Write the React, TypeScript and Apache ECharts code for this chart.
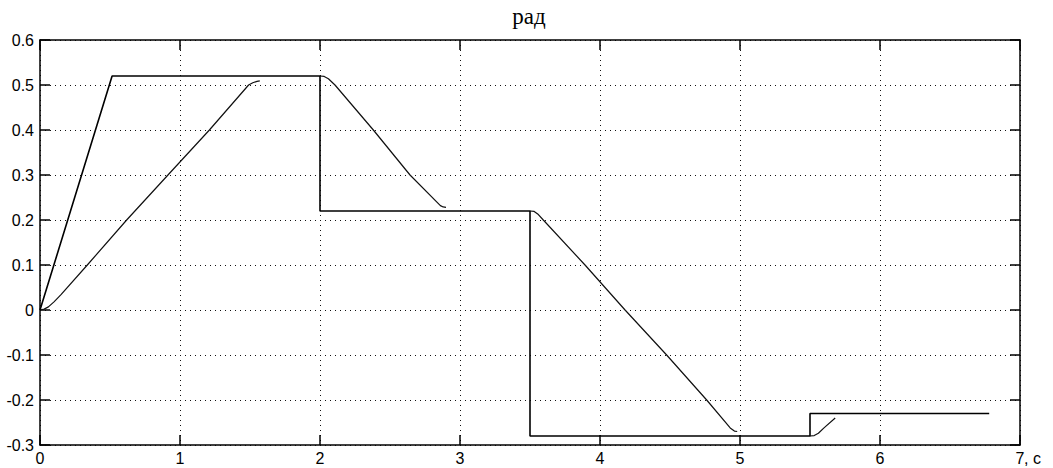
import React, { useEffect, useRef } from "react";
import * as echarts from "echarts";

// Reference (command) signal, rad
const refT = [0, 0.515, 2.0, 2.0, 3.5, 3.5, 5.5, 5.5, 6.78];
const refY = [0, 0.52, 0.52, 0.22, 0.22, -0.28, -0.28, -0.23, -0.23];

// Response segments (transitions), rad
const rise1T = [0, 0.03, 0.06, 0.1, 0.15, 0.338, 0.619, 0.914, 1.21, 1.49, 1.52, 1.55, 1.57];
const rise1Y = [0, 0.002, 0.007, 0.018, 0.034, 0.1, 0.2, 0.3, 0.4, 0.5, 0.505, 0.508, 0.509];

const fall1T = [2.0, 2.03, 2.06, 2.107, 2.381, 2.643, 2.86, 2.88, 2.9];
const fall1Y = [0.52, 0.519, 0.514, 0.5, 0.4, 0.3, 0.232, 0.229, 0.228];

const fall2T = [3.5, 3.53, 3.56, 3.595, 3.893, 4.179, 4.476, 4.762, 4.93, 4.96, 4.98];
const fall2Y = [0.22, 0.219, 0.212, 0.2, 0.1, 0, -0.1, -0.2, -0.262, -0.269, -0.27];

const rise2T = [5.5, 5.53, 5.56, 5.6, 5.68];
const rise2Y = [-0.28, -0.279, -0.274, -0.262, -0.24];

const xTicks = { min: 0, max: 7, interval: 1 };
const yTicks = { min: -0.3, max: 0.6, interval: 0.1 };
const titleText = "рад";
const xUnit = ", c";

const zip = (t: number[], y: number[]) => t.map((v, i) => [v, y[i]]);

const SANS = "Liberation Sans, Arial, sans-serif";
const SERIF = "Liberation Serif, Times New Roman, serif";

export default function App() {
  const ref = useRef<HTMLDivElement>(null);
  useEffect(() => {
    if (!ref.current) return;
    const chart = echarts.init(ref.current, null, { renderer: "svg" });
    const axisLine = { show: true, onZero: false, lineStyle: { color: "#000", width: 1.5 } };
    const axisTick = { show: true, inside: true, length: 10, lineStyle: { color: "#000", width: 1.5 } };
    const split = { show: true, lineStyle: { color: "#111", width: 1, type: [1, 4] as any } };
    const lineSeries = (data: number[][], width: number, color: string) => ({
      type: "line",
      data,
      showSymbol: false,
      symbol: "none",
      silent: true,
      lineStyle: { color, width },
      xAxisIndex: 0,
      yAxisIndex: 0,
    });
    chart.setOption({
      animation: false,
      backgroundColor: "#fff",
      grid: { left: 40, right: 33, top: 40, bottom: 23, containLabel: false },
      graphic: [
        {
          type: "text",
          x: 529,
          y: 16,
          style: {
            text: titleText,
            textAlign: "center",
            textVerticalAlign: "middle",
            fontFamily: SERIF,
            fontSize: 23,
            fill: "#000",
          },
        },
        {
          type: "text",
          x: 1024,
          y: 450,
          style: {
            text: xUnit,
            textAlign: "left",
            textVerticalAlign: "top",
            fontFamily: SANS,
            fontSize: 16,
            fill: "#000",
          },
        },
      ],
      xAxis: [
        {
          type: "value",
          position: "bottom",
          ...xTicks,
          axisLine,
          axisTick,
          splitLine: split,
          axisLabel: {
            show: true,
            color: "#000",
            fontFamily: SANS,
            fontSize: 16,
            margin: 5,
            formatter: (v: number) => String(Math.round(v)),
          },
        },
        {
          type: "value",
          position: "top",
          ...xTicks,
          axisLine,
          axisTick,
          splitLine: { show: false },
          axisLabel: { show: false },
        },
      ],
      yAxis: [
        {
          type: "value",
          position: "left",
          ...yTicks,
          axisLine,
          axisTick,
          splitLine: split,
          axisLabel: {
            show: true,
            color: "#000",
            fontFamily: SANS,
            fontSize: 16,
            margin: 6,
            formatter: (v: number) => String(Math.round(v * 10) / 10),
          },
        },
        {
          type: "value",
          position: "right",
          ...yTicks,
          axisLine,
          axisTick,
          splitLine: { show: false },
          axisLabel: { show: false },
        },
      ],
      series: [
        lineSeries(zip(rise1T, rise1Y), 1.2, "#111"),
        lineSeries(zip(fall1T, fall1Y), 1.2, "#111"),
        lineSeries(zip(fall2T, fall2Y), 1.2, "#111"),
        lineSeries(zip(rise2T, rise2Y), 1.2, "#111"),
        lineSeries(zip(refT, refY), 1.6, "#000"),
      ],
    });
    return () => chart.dispose();
  }, []);
  return (
    <div
      ref={ref}
      style={{ position: "absolute", left: 0, top: 0, width: 1053, height: 468, background: "#fff" }}
    />
  );
}
